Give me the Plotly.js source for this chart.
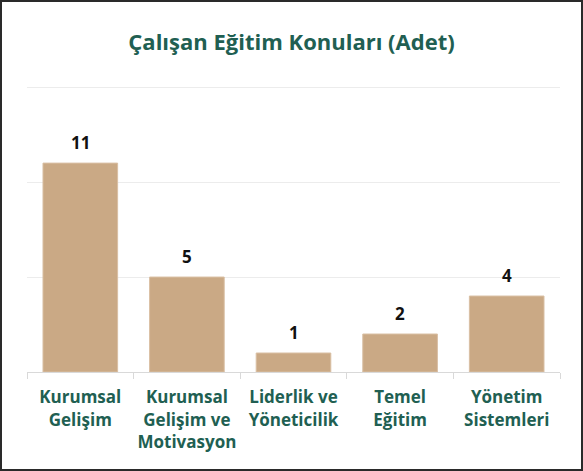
<!DOCTYPE html>
<html>
<head>
<meta charset="utf-8">
<script src="https://cdn.plot.ly/plotly-3.0.1.min.js"></script>
<style>
html,body{margin:0;padding:0;background:#fff;}
#wrap{position:relative;width:583px;height:471px;}
#chart{position:absolute;left:0;top:0;width:583px;height:471px;}
#frame{position:absolute;left:0;top:0;width:583px;height:471px;box-sizing:border-box;border:2px solid #2a2a2a;pointer-events:none;}
</style>
</head>
<body>
<div id="wrap"><div id="chart"></div><div id="frame"></div></div>
<script>
var categories = ["Kurumsal<br>Gelişim", "Kurumsal<br>Gelişim ve<br>Motivasyon", "Liderlik ve<br>Yöneticilik", "Temel<br>Eğitim", "Yönetim<br>Sistemleri"];
var values = [11, 5, 1, 2, 4];
var valueLabels = ["11", "5", "1", "2", "4"];

var green = "#215F52";
var fontFam = "Open Sans, Noto Sans, sans-serif";

var annotations = categories.map(function(c, i){
  return {x: c, y: values[i], xref: "x", yref: "y", text: valueLabels[i], showarrow: false,
          yanchor: "bottom", yshift: 7, font: {family: fontFam, size: 17, color: "#111", weight: 700}};
});

var trace = {
  type: "bar", x: categories, y: values,
  marker: {color: "#CAA985", line: {color: "#D9BFA3", width: 1}},
  hoverinfo: "none"
};

var layout = {
  width: 583, height: 471,
  margin: {l: 27, r: 23, t: 86, b: 99},
  paper_bgcolor: "#fff", plot_bgcolor: "#fff",
  title: {text: "Çalışan Eğitim Konuları (Adet)", x: 0.5, xanchor: "center", y: 0.91, yanchor: "middle",
          font: {family: fontFam, size: 22, color: green, weight: 700}},
  bargap: 0.3,
  showlegend: false,
  xaxis: {type: "category", showline: true, linecolor: "#d9d9d9", linewidth: 1,
          ticks: "outside", tickson: "boundaries", ticklen: 6, tickcolor: "#d9d9d9",
          ticklabelstandoff: 10, tickangle: 0,
          tickfont: {family: fontFam, size: 17, color: green, weight: 700}, showgrid: false},
  yaxis: {range: [0, 15.06], tickvals: [5, 10, 15], showticklabels: false, showgrid: true, gridcolor: "#ececec",
          zeroline: false, showline: false, ticks: ""},
  annotations: annotations
};

Plotly.newPlot("chart", [trace], layout, {displayModeBar: false, staticPlot: true});
</script>
</body>
</html>
